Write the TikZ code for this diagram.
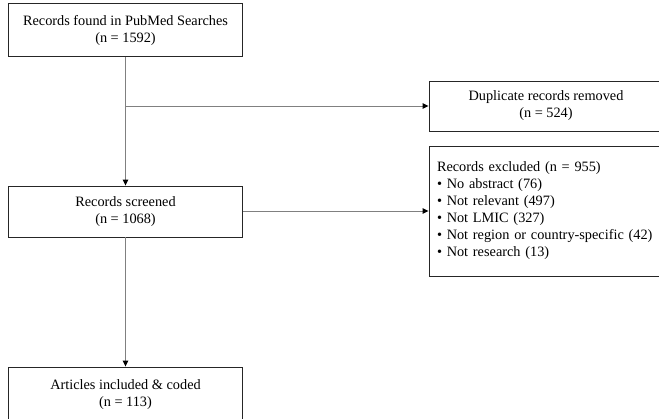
\documentclass[tikz,border=0pt]{standalone}
\usepackage{fontspec}
\setmainfont{Liberation Serif}
\usetikzlibrary{arrows.meta}
\tikzset{bx/.style = {rectangle, draw=black!85, line width=0.9pt, minimum width=234pt, inner sep=0pt,
                      align=center, font=\fontsize{14.3pt}{17pt}\selectfont},
         lst/.style = {bx, align=left, text width=218pt},
         ln/.style = {draw=black!50, line width=0.9pt}}

\begin{document}
\begin{tikzpicture}[x=1pt, y=-1pt, >={Triangle[length=6pt, width=5.5pt, color=black]}]
    \useasboundingbox (0,0) rectangle (659,418);
    \clip (0,0) rectangle (659,418);
    \node[bx, minimum height=53pt] (found) at (125.5,30) {Records found in PubMed Searches\\(n = 1592)};
    \node[bx, minimum height=51pt] (screen) at (125.5,211.5) {Records screened\\(n = 1068)};
    \node[bx, minimum height=55pt] (incl) at (125.5,394.5) {Articles included \& coded\\(n = 113)};
    \node[bx, minimum height=50pt] (dup) at (546,106) {Duplicate records removed\\(n = 524)};
    \node[lst, minimum height=130pt] (excl) at (546,211) {Records excluded (n = 955)\\
      • No abstract (76)\\
      • Not relevant (497)\\
      • Not LMIC (327)\\
      • Not region or country-specific (42)\\
      • Not research (13)};
    \coordinate (br) at (found.south |- dup.west);
    \draw[ln, ->] (found) -- (screen);
    \draw[ln, ->] (br) -- (dup);
    \draw[ln, ->] (screen.east |- excl.west) -- (excl);
    \draw[ln, ->] (screen) -- (incl);
\end{tikzpicture}
\end{document}
